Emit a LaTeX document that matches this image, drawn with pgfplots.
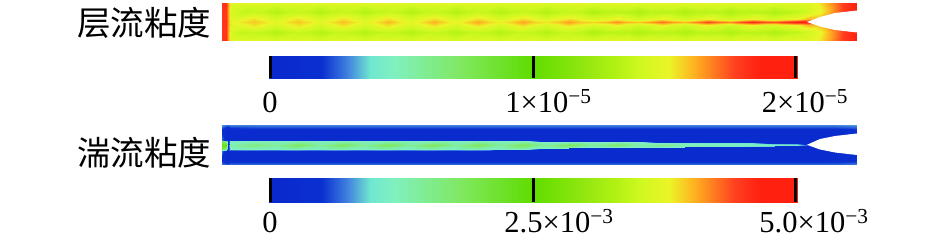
\documentclass[border=0pt]{standalone}
\usepackage{pgfplots}
\pgfplotsset{compat=1.18}
\usepackage{fontspec}
\setmainfont{Liberation Serif}
\newfontfamily\cjk{Noto Sans CJK SC}
\newcommand{\sci}[2]{#1×10\textsuperscript{−#2}}
\begin{document}
\begin{tikzpicture}
\path[use as bounding box] (0pt,0pt) rectangle (945pt,246pt);
\begin{axis}[
  at={(0pt,0pt)},anchor=south west,
  width=945pt,height=246pt,scale only axis,
  xmin=0,xmax=945,ymin=0,ymax=246,y dir=reverse,
  hide axis,clip=true,
  point meta min=0,point meta max=1,
  colormap={vis}{rgb255(0cm)=(10,40,205); rgb255(0.10cm)=(10,48,208); rgb255(0.148cm)=(64,128,224); rgb255(0.192cm)=(112,232,208); rgb255(0.236cm)=(128,240,192); rgb255(0.363cm)=(128,232,96); rgb255(0.5cm)=(96,220,0); rgb255(0.604cm)=(150,232,16); rgb255(0.66cm)=(180,242,20); rgb255(0.70cm)=(205,248,32); rgb255(0.757cm)=(235,245,40); rgb255(0.806cm)=(255,176,32); rgb255(0.882cm)=(255,64,32); rgb255(0.93cm)=(255,32,16); rgb255(1cm)=(255,32,16)},
]
% laminar viscosity field
\addplot[surf,shader=interp,mesh/ordering=y varies,mesh/rows=9,point meta=explicit] table[meta index=2,row sep=\\]{
222 3 .9\\222 7 .9\\222 12 .9\\222 18 .9\\222 22 .9\\222 26 .9\\222 32 .9\\222 37 .9\\222 41 .9\\
226 3 .9\\226 7 .9\\226 12 .9\\226 18 .9\\226 22 .9\\226 26 .9\\226 32 .9\\226 37 .9\\226 41 .9\\
228 3 .82\\228 7 .82\\228 12 .82\\228 18 .82\\228 22 .82\\228 26 .82\\228 32 .82\\228 37 .82\\228 41 .82\\
231 3 .74\\231 7 .72\\231 12 .72\\231 18 .73\\231 22 .74\\231 26 .73\\231 32 .72\\231 37 .72\\231 41 .74\\
243 3 .74\\243 7 .71\\243 12 .68\\243 18 .74\\243 22 .77\\243 26 .74\\243 32 .68\\243 37 .71\\243 41 .74\\
254 3 .74\\254 7 .70\\254 12 .69\\254 18 .765\\254 22 .79\\254 26 .765\\254 32 .69\\254 37 .70\\254 41 .74\\
265 3 .74\\265 7 .71\\265 12 .68\\265 18 .74\\265 22 .77\\265 26 .74\\265 32 .68\\265 37 .71\\265 41 .74\\
276 3 .73\\276 7 .69\\276 12 .66\\276 18 .71\\276 22 .74\\276 26 .71\\276 32 .66\\276 37 .69\\276 41 .73\\
287 3 .74\\287 7 .71\\287 12 .68\\287 18 .74\\287 22 .77\\287 26 .74\\287 32 .68\\287 37 .71\\287 41 .74\\
298 3 .74\\298 7 .70\\298 12 .69\\298 18 .765\\298 22 .79\\298 26 .765\\298 32 .69\\298 37 .70\\298 41 .74\\
309 3 .74\\309 7 .71\\309 12 .68\\309 18 .74\\309 22 .77\\309 26 .74\\309 32 .68\\309 37 .71\\309 41 .74\\
320 3 .73\\320 7 .69\\320 12 .66\\320 18 .71\\320 22 .74\\320 26 .71\\320 32 .66\\320 37 .69\\320 41 .73\\
332 3 .74\\332 7 .71\\332 12 .68\\332 18 .74\\332 22 .77\\332 26 .74\\332 32 .68\\332 37 .71\\332 41 .74\\
343 3 .74\\343 7 .70\\343 12 .69\\343 18 .765\\343 22 .795\\343 26 .765\\343 32 .69\\343 37 .70\\343 41 .74\\
354 3 .74\\354 7 .71\\354 12 .68\\354 18 .74\\354 22 .77\\354 26 .74\\354 32 .68\\354 37 .71\\354 41 .74\\
365 3 .73\\365 7 .69\\365 12 .66\\365 18 .71\\365 22 .74\\365 26 .71\\365 32 .66\\365 37 .69\\365 41 .73\\
377 3 .74\\377 7 .71\\377 12 .68\\377 18 .74\\377 22 .77\\377 26 .74\\377 32 .68\\377 37 .71\\377 41 .74\\
388 3 .74\\388 7 .70\\388 12 .69\\388 18 .765\\388 22 .80\\388 26 .765\\388 32 .69\\388 37 .70\\388 41 .74\\
399 3 .74\\399 7 .71\\399 12 .68\\399 18 .74\\399 22 .77\\399 26 .74\\399 32 .68\\399 37 .71\\399 41 .74\\
411 3 .73\\411 7 .69\\411 12 .66\\411 18 .71\\411 22 .74\\411 26 .71\\411 32 .66\\411 37 .69\\411 41 .73\\
423 3 .74\\423 7 .71\\423 12 .68\\423 18 .74\\423 22 .775\\423 26 .74\\423 32 .68\\423 37 .71\\423 41 .74\\
434 3 .74\\434 7 .70\\434 12 .69\\434 18 .765\\434 22 .805\\434 26 .765\\434 32 .69\\434 37 .70\\434 41 .74\\
445 3 .74\\445 7 .71\\445 12 .68\\445 18 .74\\445 22 .775\\445 26 .74\\445 32 .68\\445 37 .71\\445 41 .74\\
456 3 .73\\456 7 .69\\456 12 .66\\456 18 .71\\456 22 .75\\456 26 .71\\456 32 .66\\456 37 .69\\456 41 .73\\
467 3 .74\\467 7 .71\\467 12 .68\\467 18 .74\\467 22 .78\\467 26 .74\\467 32 .68\\467 37 .71\\467 41 .74\\
478 3 .74\\478 7 .70\\478 12 .69\\478 18 .765\\478 22 .81\\478 26 .765\\478 32 .69\\478 37 .70\\478 41 .74\\
489 3 .74\\489 7 .71\\489 12 .68\\489 18 .74\\489 22 .78\\489 26 .74\\489 32 .68\\489 37 .71\\489 41 .74\\
500 3 .73\\500 7 .69\\500 12 .66\\500 18 .71\\500 22 .76\\500 26 .71\\500 32 .66\\500 37 .69\\500 41 .73\\
512 3 .74\\512 7 .71\\512 12 .68\\512 18 .74\\512 22 .785\\512 26 .74\\512 32 .68\\512 37 .71\\512 41 .74\\
523 3 .74\\523 7 .70\\523 12 .69\\523 18 .765\\523 22 .815\\523 26 .765\\523 32 .69\\523 37 .70\\523 41 .74\\
534 3 .74\\534 7 .71\\534 12 .68\\534 18 .74\\534 22 .785\\534 26 .74\\534 32 .68\\534 37 .71\\534 41 .74\\
546 3 .73\\546 7 .69\\546 12 .66\\546 18 .71\\546 22 .77\\546 26 .71\\546 32 .66\\546 37 .69\\546 41 .73\\
558 3 .74\\558 7 .71\\558 12 .68\\558 18 .74\\558 22 .79\\558 26 .74\\558 32 .68\\558 37 .71\\558 41 .74\\
569 3 .74\\569 7 .70\\569 12 .69\\569 18 .76\\569 22 .82\\569 26 .76\\569 32 .69\\569 37 .70\\569 41 .74\\
580 3 .74\\580 7 .71\\580 12 .68\\580 18 .74\\580 22 .79\\580 26 .74\\580 32 .68\\580 37 .71\\580 41 .74\\
593 3 .73\\593 7 .69\\593 12 .65\\593 18 .71\\593 22 .78\\593 26 .71\\593 32 .65\\593 37 .69\\593 41 .73\\
606 3 .74\\606 7 .71\\606 12 .67\\606 19 .73\\606 22 .80\\606 25 .73\\606 32 .67\\606 37 .71\\606 41 .74\\
617 3 .74\\617 7 .70\\617 12 .67\\617 19 .76\\617 22 .83\\617 25 .76\\617 32 .67\\617 37 .70\\617 41 .74\\
628 3 .74\\628 7 .71\\628 12 .67\\628 19 .73\\628 22 .80\\628 25 .73\\628 32 .67\\628 37 .71\\628 41 .74\\
639 3 .73\\639 7 .69\\639 12 .65\\639 19 .71\\639 22 .79\\639 25 .71\\639 32 .65\\639 37 .69\\639 41 .73\\
651 3 .74\\651 7 .71\\651 12 .67\\651 19 .73\\651 22 .82\\651 25 .73\\651 32 .67\\651 37 .71\\651 41 .74\\
662 3 .74\\662 7 .70\\662 12 .67\\662 19 .76\\662 22 .85\\662 25 .76\\662 32 .67\\662 37 .70\\662 41 .74\\
673 3 .74\\673 7 .71\\673 12 .67\\673 19 .73\\673 22 .82\\673 25 .73\\673 32 .67\\673 37 .71\\673 41 .74\\
685 3 .73\\685 7 .69\\685 12 .65\\685 19 .71\\685 22 .80\\685 25 .71\\685 32 .65\\685 37 .69\\685 41 .73\\
697 3 .74\\697 7 .71\\697 12 .67\\697 19 .73\\697 22 .84\\697 25 .73\\697 32 .67\\697 37 .71\\697 41 .74\\
708 3 .74\\708 7 .70\\708 12 .67\\708 19 .76\\708 22 .88\\708 25 .76\\708 32 .67\\708 37 .70\\708 41 .74\\
719 3 .74\\719 7 .71\\719 12 .67\\719 19 .73\\719 22 .85\\719 25 .73\\719 32 .67\\719 37 .71\\719 41 .74\\
730 3 .73\\730 7 .69\\730 12 .65\\730 19 .71\\730 22 .83\\730 25 .71\\730 32 .65\\730 37 .69\\730 41 .73\\
742 3 .74\\742 7 .71\\742 12 .67\\742 19 .73\\742 22 .88\\742 25 .73\\742 32 .67\\742 37 .71\\742 41 .74\\
753 3 .74\\753 7 .70\\753 12 .67\\753 19 .76\\753 22 .91\\753 25 .76\\753 32 .67\\753 37 .70\\753 41 .74\\
764 3 .74\\764 7 .71\\764 12 .67\\764 19 .73\\764 22 .88\\764 25 .73\\764 32 .67\\764 37 .71\\764 41 .74\\
775 3 .73\\775 7 .69\\775 12 .65\\775 19 .72\\775 22 .87\\775 25 .72\\775 32 .65\\775 37 .69\\775 41 .73\\
787 3 .74\\787 7 .71\\787 12 .67\\787 19 .74\\787 22 .91\\787 25 .74\\787 32 .67\\787 37 .71\\787 41 .74\\
797 3 .74\\797 7 .71\\797 12 .68\\797 19 .76\\797 22 .93\\797 25 .76\\797 32 .68\\797 37 .71\\797 41 .74\\
808 3 .74\\808 7 .72\\808 12 .71\\808 19 .80\\808 22 .93\\808 25 .80\\808 32 .71\\808 37 .72\\808 41 .74\\
820 3 .77\\820 7 .76\\820 12 .75\\820 19 .80\\820 22 .85\\820 25 .80\\820 32 .75\\820 37 .76\\820 41 .77\\
832 3 .83\\832 7 .82\\832 12 .82\\832 19 .85\\832 22 .85\\832 25 .85\\832 32 .82\\832 37 .82\\832 41 .83\\
844 3 .89\\844 7 .89\\844 12 .89\\844 19 .89\\844 22 .89\\844 25 .89\\844 32 .89\\844 37 .89\\844 41 .89\\
856 3 .93\\856 7 .93\\856 12 .93\\856 19 .93\\856 22 .93\\856 25 .93\\856 32 .93\\856 37 .93\\856 41 .93\\
};
\addplot[fill=white,draw=none] coordinates {(807,22)(820,17)(835,13)(857,10.5)(857,32.5)(835,30)(820,26.5)(807,22)} --cycle;
% turbulent viscosity field
\addplot[surf,shader=interp,mesh/ordering=y varies,mesh/rows=11,point meta=explicit] table[meta index=2,row sep=\\]{
222 125 .16\\222 128 .12\\222 131 .08\\222 139.5 .14\\222 141 .38\\222 145 .47\\222 149 .38\\222 150.5 .14\\222 159 .08\\222 161 .10\\222 164 .14\\
226 125 .14\\226 128 .08\\226 131 .04\\226 139.5 .06\\226 141 .30\\226 145 .47\\226 149 .30\\226 150.5 .06\\226 159 .04\\226 161 .08\\226 164 .12\\
228 125 .14\\228 128 .06\\228 131 .03\\228 139.5 .03\\228 141 .04\\228 145 .06\\228 149 .04\\228 150.5 .03\\228 159 .03\\228 161 .06\\228 164 .12\\
230 125 .15\\230 128 .10\\230 131 .03\\230 139.5 .05\\230 141 .22\\230 145 .26\\230 149 .22\\230 150.5 .05\\230 159 .03\\230 161 .09\\230 164 .13\\
254 125 .15\\254 128 .11\\254 131 .03\\254 139.5 .05\\254 141 .24\\254 145 .32\\254 149 .24\\254 150.5 .05\\254 159 .03\\254 161 .09\\254 164 .13\\
276 125 .15\\276 128 .11\\276 131 .03\\276 139.5 .05\\276 141 .23\\276 145 .28\\276 149 .23\\276 150.5 .05\\276 159 .03\\276 161 .09\\276 164 .13\\
298 125 .15\\298 128 .11\\298 131 .03\\298 139.5 .05\\298 141 .25\\298 145 .36\\298 149 .25\\298 150.5 .05\\298 159 .03\\298 161 .09\\298 164 .13\\
320 125 .15\\320 128 .11\\320 131 .03\\320 139.5 .05\\320 141 .23\\320 145 .28\\320 149 .23\\320 150.5 .05\\320 159 .03\\320 161 .09\\320 164 .13\\
343 125 .15\\343 128 .11\\343 131 .03\\343 139.5 .05\\343 141 .25\\343 145 .36\\343 149 .25\\343 150.5 .05\\343 159 .03\\343 161 .09\\343 164 .13\\
365 125 .15\\365 128 .11\\365 131 .03\\365 139.5 .05\\365 141 .23\\365 145 .28\\365 149 .23\\365 150.5 .05\\365 159 .03\\365 161 .09\\365 164 .13\\
388 125 .15\\388 128 .11\\388 131 .03\\388 139.5 .05\\388 141 .25\\388 145 .37\\388 149 .25\\388 150.5 .05\\388 159 .03\\388 161 .09\\388 164 .13\\
411 125 .15\\411 128 .11\\411 131 .03\\411 139.5 .05\\411 141 .23\\411 145 .28\\411 149 .23\\411 150.5 .05\\411 159 .03\\411 161 .09\\411 164 .13\\
434 125 .15\\434 128 .11\\434 131 .03\\434 139.5 .05\\434 141 .25\\434 145 .37\\434 149 .25\\434 150.5 .05\\434 159 .03\\434 161 .09\\434 164 .13\\
456 125 .15\\456 128 .11\\456 131 .03\\456 139.5 .05\\456 141 .23\\456 145 .28\\456 149 .23\\456 150.5 .05\\456 159 .03\\456 161 .09\\456 164 .13\\
478 125 .15\\478 128 .11\\478 131 .03\\478 139.5 .05\\478 141 .25\\478 145 .37\\478 149 .25\\478 150.5 .05\\478 159 .03\\478 161 .09\\478 164 .13\\
500 125 .15\\500 128 .11\\500 131 .03\\500 139.7 .05\\500 141 .23\\500 145 .28\\500 149 .23\\500 150 .05\\500 159 .03\\500 161 .09\\500 164 .13\\
523 125 .15\\523 128 .11\\523 131 .03\\523 140 .05\\523 141.2 .25\\523 145 .37\\523 148.6 .25\\523 149.6 .05\\523 159 .03\\523 161 .09\\523 164 .13\\
546 125 .15\\546 128 .11\\546 131 .03\\546 140.5 .05\\546 141.5 .23\\546 145 .28\\546 147.8 .23\\546 148.8 .05\\546 159 .03\\546 161 .09\\546 164 .13\\
569 125 .15\\569 128 .11\\569 131 .03\\569 140.7 .05\\569 141.7 .25\\569 145 .37\\569 147.6 .25\\569 148.5 .05\\569 159 .03\\569 161 .09\\569 164 .13\\
593 125 .15\\593 128 .11\\593 131 .03\\593 141 .05\\593 141.9 .23\\593 145 .28\\593 147.4 .23\\593 148.3 .05\\593 159 .03\\593 161 .09\\593 164 .13\\
617 125 .15\\617 128 .11\\617 131 .03\\617 141.2 .05\\617 142.1 .25\\617 145 .35\\617 147.2 .25\\617 148.1 .05\\617 159 .03\\617 161 .09\\617 164 .13\\
639 125 .15\\639 128 .11\\639 131 .03\\639 141.4 .05\\639 142.3 .23\\639 145 .27\\639 147 .23\\639 147.9 .05\\639 159 .03\\639 161 .09\\639 164 .13\\
662 125 .15\\662 128 .11\\662 131 .03\\662 141.6 .05\\662 142.5 .23\\662 145 .31\\662 146.9 .23\\662 147.7 .05\\662 159 .03\\662 161 .09\\662 164 .13\\
685 125 .15\\685 128 .11\\685 131 .03\\685 141.9 .05\\685 142.7 .22\\685 145 .26\\685 146.7 .22\\685 147.5 .05\\685 159 .03\\685 161 .09\\685 164 .13\\
708 125 .15\\708 128 .11\\708 131 .03\\708 142.2 .05\\708 142.9 .21\\708 145 .25\\708 146.5 .21\\708 147.2 .05\\708 159 .03\\708 161 .09\\708 164 .13\\
730 125 .15\\730 128 .11\\730 131 .03\\730 142.5 .05\\730 143.1 .20\\730 145 .24\\730 146.3 .20\\730 147 .05\\730 159 .03\\730 161 .09\\730 164 .13\\
753 125 .15\\753 128 .11\\753 131 .03\\753 142.8 .05\\753 143.4 .19\\753 145 .23\\753 146.1 .19\\753 146.8 .05\\753 159 .03\\753 161 .09\\753 164 .13\\
775 125 .15\\775 128 .11\\775 131 .03\\775 143.2 .05\\775 143.8 .18\\775 145 .22\\775 145.8 .18\\775 146.5 .05\\775 159 .03\\775 161 .09\\775 164 .13\\
797 125 .15\\797 128 .11\\797 131 .03\\797 143.9 .05\\797 144.3 .17\\797 145 .20\\797 145.5 .17\\797 146 .05\\797 159 .03\\797 161 .09\\797 164 .13\\
808 125 .15\\808 128 .11\\808 131 .03\\808 144.2 .05\\808 144.6 .10\\808 145 .12\\808 145.3 .10\\808 145.6 .05\\808 159 .03\\808 161 .09\\808 164 .13\\
820 125 .15\\820 128 .11\\820 131 .03\\820 139 .04\\820 144 .05\\820 145 .05\\820 146 .05\\820 150 .04\\820 159 .03\\820 161 .09\\820 164 .13\\
835 125 .15\\835 128 .11\\835 131 .04\\835 135 .05\\835 139 .05\\835 145 .05\\835 151 .05\\835 155 .05\\835 159 .05\\835 161 .09\\835 164 .13\\
856 125 .16\\856 128 .12\\856 131 .09\\856 134 .10\\856 139 .10\\856 145 .10\\856 151 .10\\856 155 .10\\856 159 .09\\856 161 .10\\856 164 .14\\
};
\addplot[fill=white,draw=none] coordinates {(807,144.8)(820,139)(835,136)(857,133.5)(857,155)(835,152.5)(820,149.5)(807,144.8)} --cycle;
% colour bar 1
\addplot[surf,shader=interp,mesh/ordering=y varies,mesh/rows=2,point meta=explicit] table[meta index=2,row sep=\\]{
269 56 0\\269 78 0\\797 56 1\\797 78 1\\
};
\addplot[black,line width=3pt] coordinates {(270,56)(270,78)};
\addplot[black,line width=3pt] coordinates {(533,56)(533,78)};
\addplot[black,line width=3pt] coordinates {(795,56)(795,78)};
% colour bar 2
\addplot[surf,shader=interp,mesh/ordering=y varies,mesh/rows=2,point meta=explicit] table[meta index=2,row sep=\\]{
269 178 0\\269 202 0\\797 178 1\\797 202 1\\
};
\addplot[black,line width=3pt] coordinates {(270,178)(270,202)};
\addplot[black,line width=3pt] coordinates {(533,178)(533,202)};
\addplot[black,line width=3pt] coordinates {(795,178)(795,202)};
% text
\node[inner sep=0pt] at (axis cs:144,23) {\fontsize{33.5}{33.5}\cjk 层流粘度};
\node[inner sep=0pt] at (axis cs:144,153) {\fontsize{33.5}{33.5}\cjk 湍流粘度};
\node[inner sep=0pt,anchor=base] at (axis cs:270,112) {\fontsize{30.5}{30.5}\selectfont 0};
\node[inner sep=0pt,anchor=base] at (axis cs:548.5,112.5) {\fontsize{30.5}{30.5}\selectfont\sci{1}{5}};
\node[inner sep=0pt,anchor=base] at (axis cs:805,112.5) {\fontsize{30.5}{30.5}\selectfont\sci{2}{5}};
\node[inner sep=0pt,anchor=base] at (axis cs:270,232.5) {\fontsize{30.5}{30.5}\selectfont 0};
\node[inner sep=0pt,anchor=base] at (axis cs:559,232.5) {\fontsize{30.5}{30.5}\selectfont\sci{2.5}{3}};
\node[inner sep=0pt,anchor=base] at (axis cs:814,232.5) {\fontsize{30.5}{30.5}\selectfont\sci{5.0}{3}};
\end{axis}
\end{tikzpicture}
\end{document}
